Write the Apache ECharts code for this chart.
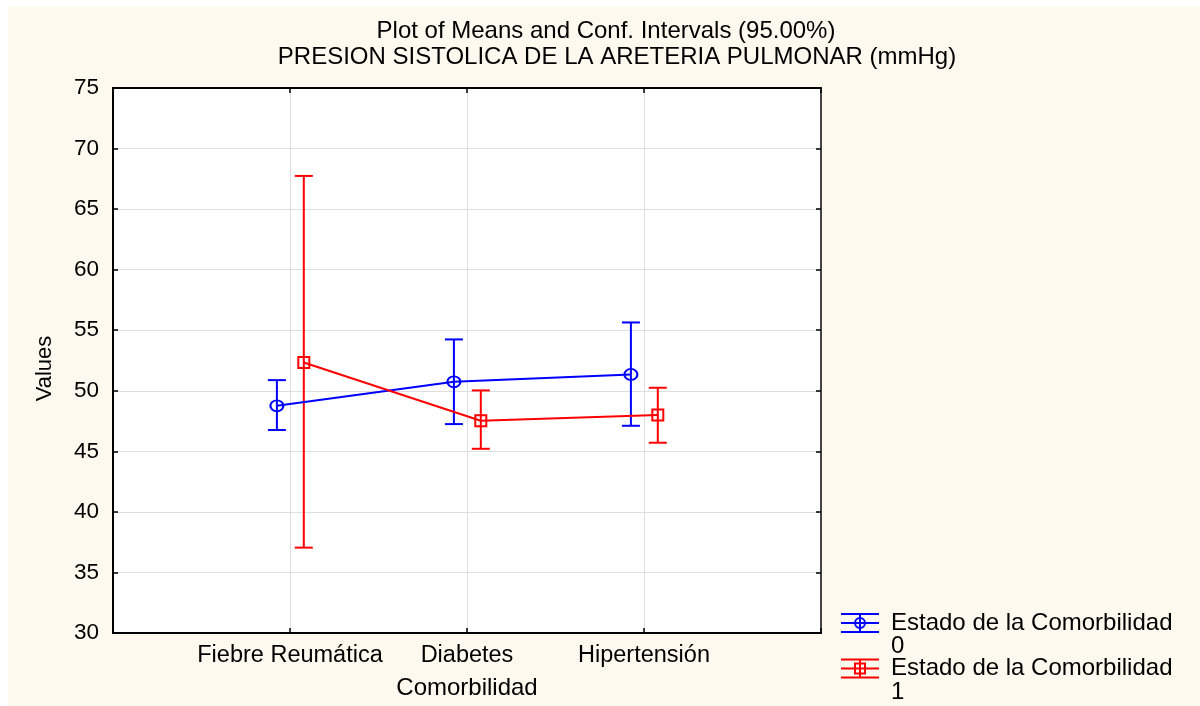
<!DOCTYPE html>
<html><head><meta charset="utf-8">
<script src="https://cdn.jsdelivr.net/npm/echarts@6/dist/echarts.min.js"></script>
<style>html,body{margin:0;padding:0;background:#fff}
#bg{position:absolute;left:8px;top:7px;width:1192px;height:699px;background:#fdf9ee}
#chart{position:absolute;left:0;top:0;width:1200px;height:706px}</style>
</head><body><div id="bg"></div><div id="chart"></div>
<script>
const categories = ['Fiebre Reumática', 'Diabetes', 'Hipertensión'];
const yTicks = [30, 35, 40, 45, 50, 55, 60, 65, 70, 75];
const titleLines = ['Plot of Means and Conf. Intervals (95.00%)', 'PRESION SISTOLICA DE LA ARETERIA PULMONAR (mmHg)'];
const groupNames = ['Estado de la Comorbilidad\n0', 'Estado de la Comorbilidad\n1'];
const mean0 = [48.76, 50.74, 51.35];
const low0  = [46.76, 47.25, 47.11];
const high0 = [50.88, 54.24, 55.64];
const mean1 = [52.34, 47.52, 48.00];
const low1  = [37.05, 45.21, 45.71];
const high1 = [67.74, 50.03, 50.25];

const FONT = 'Liberation Sans, Arial, sans-serif';
const BLUE = '#0000ff', RED = '#ff0000';
const OFF0 = -0.074, OFF1 = 0.078;

function errRender(color) {
  return function (params, api) {
    const x = api.value(0);
    const top = api.coord([x, api.value(2)]);
    const bot = api.coord([x, api.value(1)]);
    const hw = 9;
    const style = { stroke: color, lineWidth: 2, fill: null };
    return { type: 'group', children: [
      { type: 'line', shape: { x1: top[0], y1: top[1], x2: bot[0], y2: bot[1] }, style },
      { type: 'line', shape: { x1: top[0] - hw, y1: top[1], x2: top[0] + hw, y2: top[1] }, style },
      { type: 'line', shape: { x1: bot[0] - hw, y1: bot[1], x2: bot[0] + hw, y2: bot[1] }, style }
    ]};
  };
}

const err0 = categories.map((c, i) => [i + 1 + OFF0, low0[i], high0[i]]);
const err1 = categories.map((c, i) => [i + 1 + OFF1, low1[i], high1[i]]);
const pts0 = categories.map((c, i) => [i + 1 + OFF0, mean0[i]]);
const pts1 = categories.map((c, i) => [i + 1 + OFF1, mean1[i]]);

const yMin = yTicks[0], yMax = yTicks[yTicks.length - 1], yInt = yTicks[1] - yTicks[0];

function legendItem(y, color, symbol, name) {
  const s = { stroke: color, lineWidth: 2, fill: null };
  const lines = name.split('\n');
  const kids = [
    { type: 'line', shape: { x1: 841, y1: y - 9, x2: 879, y2: y - 9 }, style: s },
    { type: 'line', shape: { x1: 841, y1: y, x2: 879, y2: y }, style: s },
    { type: 'line', shape: { x1: 841, y1: y + 9, x2: 879, y2: y + 9 }, style: s },
    { type: 'line', shape: { x1: 860, y1: y - 9, x2: 860, y2: y + 9 }, style: s },
    symbol === 'circle'
      ? { type: 'circle', shape: { cx: 860, cy: y, r: 5 }, style: s }
      : { type: 'rect', shape: { x: 855, y: y - 5, width: 10, height: 10 }, style: s },
    { type: 'text', x: 891, y: y, style: { text: lines[0], font: '24px ' + FONT, fill: '#000', verticalAlign: 'middle' } },
    { type: 'text', x: 891, y: y + 23.5, style: { text: lines[1], font: '24px ' + FONT, fill: '#000', verticalAlign: 'middle' } }
  ];
  return { type: 'group', children: kids };
}

const titleStyle = { fontFamily: FONT, fontSize: 24, fontWeight: 'normal', color: '#000' };
const chart = echarts.init(document.getElementById('chart'));
chart.setOption({
  backgroundColor: 'transparent',
  animation: false,
  title: [
    { text: titleLines[0], left: 601, top: 14, textAlign: 'center', padding: 5, textStyle: titleStyle },
    { text: titleLines[1], left: 612, top: 40, textAlign: 'center', padding: 5, textStyle: titleStyle }
  ],
  grid: { left: 113, top: 88, right: 379, bottom: 73, show: true, backgroundColor: '#fff', borderWidth: 0,
    containLabel: false, outerBoundsMode: 'none' },
  xAxis: [{
    type: 'value', min: 0, max: 4, interval: 1, position: 'bottom',
    name: 'Comorbilidad', nameLocation: 'middle', nameGap: 43,
    nameTextStyle: { fontFamily: FONT, fontSize: 24, color: '#000' },
    axisLine: { onZero: false, lineStyle: { color: '#000', width: 2 } },
    axisTick: { inside: true, length: 5, lineStyle: { color: '#000', width: 1.5 } },
    axisLabel: { fontFamily: FONT, fontSize: 23.5, color: '#000', margin: 11,
      formatter: v => categories[v - 1] || '' },
    splitLine: { show: true, lineStyle: { color: '#dedede', width: 1 } }
  }, {
    type: 'value', min: 0, max: 4, interval: 1, position: 'top',
    axisLine: { onZero: false, lineStyle: { color: '#000', width: 2 } },
    axisTick: { inside: true, length: 5, lineStyle: { color: '#000', width: 1.5 } },
    axisLabel: { show: false }, splitLine: { show: false }
  }],
  yAxis: [{
    type: 'value', min: yMin, max: yMax, interval: yInt, position: 'left',
    name: 'Values', nameLocation: 'middle', nameGap: 57, nameRotate: 90,
    nameTextStyle: { fontFamily: FONT, fontSize: 22, color: '#000', padding: [0, 16, 0, 0] },
    axisLine: { show: true, onZero: false, lineStyle: { color: '#000', width: 2 } },
    axisTick: { show: true, inside: true, length: 5, lineStyle: { color: '#000', width: 1.5 } },
    axisLabel: { fontFamily: FONT, fontSize: 22.5, color: '#000', margin: 14 },
    splitLine: { show: true, lineStyle: { color: '#dedede', width: 1 } }
  }, {
    type: 'value', min: yMin, max: yMax, interval: yInt, position: 'right',
    axisLine: { show: true, onZero: false, lineStyle: { color: '#444', width: 2 } },
    axisTick: { show: true, inside: true, length: 5, lineStyle: { color: '#000', width: 1.5 } },
    axisLabel: { show: false }, splitLine: { show: false }
  }],
  series: [
    { type: 'custom', name: groupNames[0], renderItem: errRender(BLUE), data: err0,
      encode: { x: 0, y: [1, 2] }, z: 3 },
    { type: 'custom', name: groupNames[1], renderItem: errRender(RED), data: err1,
      encode: { x: 0, y: [1, 2] }, z: 3 },
    { type: 'line', name: groupNames[0], data: pts0, symbol: 'circle', symbolSize: [13, 11],
      lineStyle: { color: BLUE, width: 2 },
      itemStyle: { color: 'rgba(0,0,0,0)', borderColor: BLUE, borderWidth: 2 }, z: 4 },
    { type: 'line', name: groupNames[1], data: pts1, symbol: 'rect', symbolSize: 11,
      lineStyle: { color: RED, width: 2 },
      itemStyle: { color: 'rgba(0,0,0,0)', borderColor: RED, borderWidth: 2 }, z: 4 }
  ],
  graphic: [
    legendItem(623, BLUE, 'circle', groupNames[0]),
    legendItem(668.5, RED, 'rect', groupNames[1])
  ]
});
</script></body></html>
